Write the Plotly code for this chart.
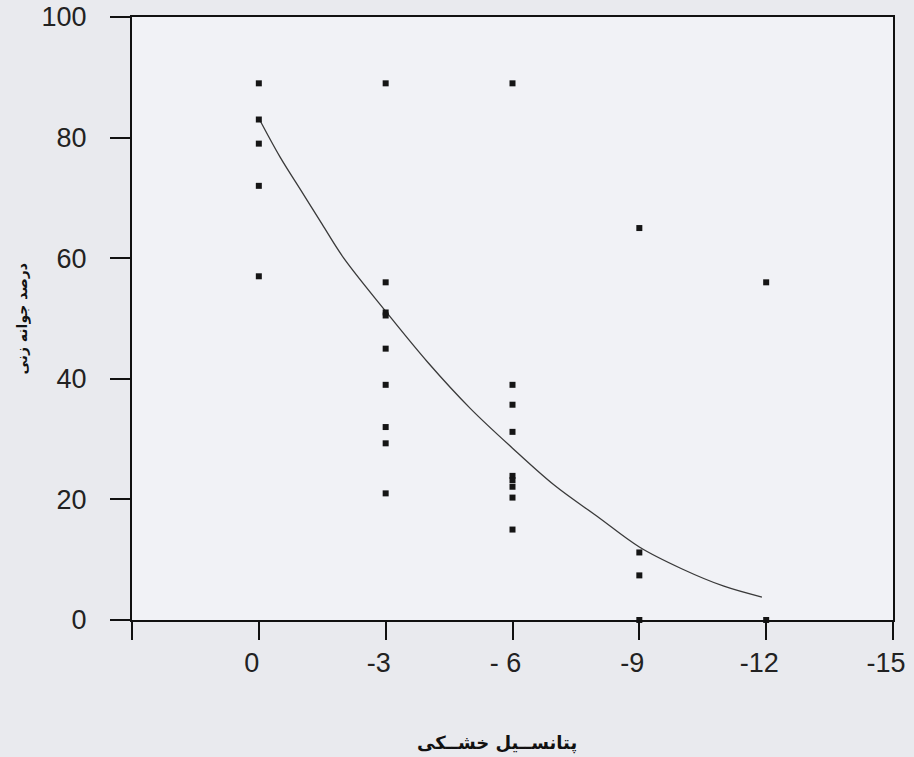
import plotly.graph_objects as go

# Observed germination data (x = drought potential, y = germination %)
x_pts = [0, 0, 0, 0, 0,
         -3, -3, -3, -3, -3, -3, -3, -3, -3,
         -6, -6, -6, -6, -6, -6, -6, -6, -6,
         -9, -9, -9, -9,
         -12, -12]
y_pts = [89, 83, 79, 72, 57,
         89, 56, 51, 50.5, 45, 39, 32, 29.3, 21,
         89, 39, 35.7, 31.2, 23.9, 23.2, 22.1, 20.3, 15,
         65, 11.2, 7.4, 0,
         56, 0]

# Fitted curve
curve_x = [0, -0.5, -1, -1.5, -2, -3, -4, -5, -6, -7, -8, -9, -10, -11, -11.9]
curve_y = [83.2, 76.8, 71.2, 65.6, 60.1, 51.2, 42.7, 35.1, 28.5, 22.3, 17.2, 12.1, 8.5, 5.6, 3.8]

x_tickvals = [3, 0, -3, -6, -9, -12, -15]
x_ticktext = ["", "0", "-3", "- 6", "-9", "-12", "-15"]
y_tickvals = [0, 20, 40, 60, 80, 100]

x_title = "پتانســیل خشــکی"
y_title = "درصد جوانه زنی"

fig = go.Figure()
fig.add_trace(go.Scatter(
    x=curve_x, y=curve_y, mode="lines", line=dict(color="#3a3a3a", width=1.3, shape="spline"),
    hoverinfo="skip", showlegend=False))
fig.add_trace(go.Scatter(
    x=x_pts, y=y_pts, mode="markers",
    marker=dict(symbol="square", size=6, color="#151515"),
    cliponaxis=False, showlegend=False))

tickfont = dict(family="Liberation Sans, Arial, sans-serif", size=27, color="#222")
fig.update_xaxes(range=[3, -15], tickvals=x_tickvals, ticktext=x_ticktext,
                 showline=True, linecolor="#111", linewidth=2, mirror=True,
                 ticks="outside", ticklen=18, tickwidth=2, tickcolor="#111",
                 showgrid=False, zeroline=False, tickfont=tickfont, ticklabelstandoff=0,
                 ticklabelshift=7, ticklabeloverflow="allow", automargin=False)
fig.update_yaxes(range=[0, 100], tickvals=y_tickvals,
                 showline=True, linecolor="#111", linewidth=2, mirror=True,
                 ticks="outside", ticklen=20, tickwidth=2, tickcolor="#111",
                 showgrid=False, zeroline=False, tickfont=tickfont, ticklabelstandoff=18,
                 ticklabeloverflow="allow", automargin=False)

fig.add_annotation(text=y_title, xref="paper", yref="paper", x=(22 - 132) / 761, y=0.5,
                   xanchor="center", yanchor="middle",
                   textangle=-90, showarrow=False,
                   font=dict(family="DejaVu Sans", size=14, color="#111", weight="bold"))
fig.add_annotation(text=x_title, xref="paper", yref="paper", x=(497 - 132) / 761, y=(620 - 743) / 603,
                   xanchor="center", yanchor="middle", showarrow=False,
                   font=dict(family="DejaVu Sans", size=18, color="#111", weight="bold"))

fig.update_layout(width=914, height=757, margin=dict(l=132, r=21, t=17, b=137, autoexpand=False),
                  paper_bgcolor="#e9eaee", plot_bgcolor="#f1f2f6")
fig.write_html("out.html", config={"displayModeBar": False},
               post_script="document.body.style.margin='0';")
